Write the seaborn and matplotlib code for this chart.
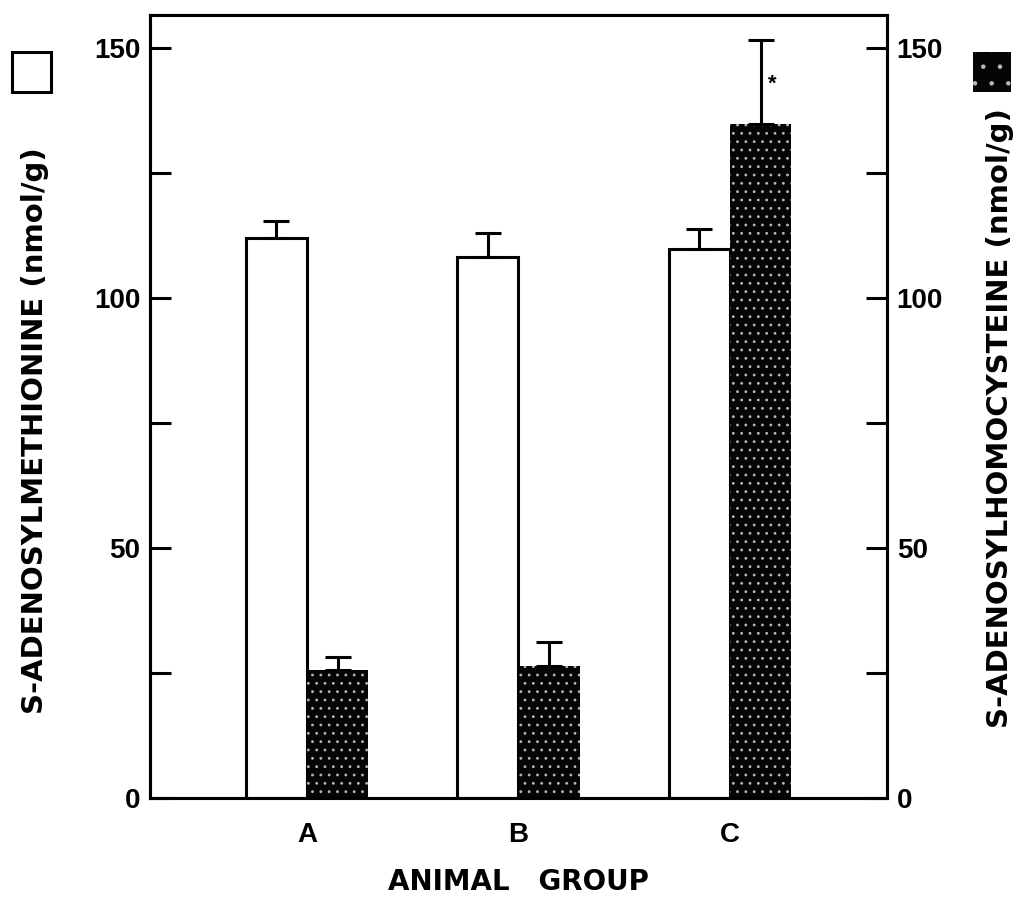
import numpy as np
import pandas as pd
import matplotlib
matplotlib.use("Agg")
import matplotlib.pyplot as plt
import seaborn as sns
from matplotlib.patches import Rectangle
from matplotlib.ticker import MultipleLocator

# ---- data ----
groups = ["A", "B", "C"]
sam_values = [112.0, 108.2, 109.8]      # S-adenosylmethionine (white bars)
sam_errors = [3.4, 4.8, 4.0]
sah_values = [25.6, 26.4, 134.8]        # S-adenosylhomocysteine (dark bars)
sah_errors = [2.6, 4.8, 16.8]
compounds = ["SAM", "SAH"]

df = pd.DataFrame({
    "group": groups * 2,
    "compound": [compounds[0]] * 3 + [compounds[1]] * 3,
    "value": sam_values + sah_values,
})

sns.set_theme(style="white")
plt.rcParams["font.family"] = ["Liberation Sans", "DejaVu Sans"]
plt.rcParams["font.weight"] = "bold"
plt.rcParams["hatch.linewidth"] = 0.8
for k in ["text.color", "axes.labelcolor", "xtick.color", "ytick.color", "axes.edgecolor"]:
    plt.rcParams[k] = "black"

LABEL_FONT = ["DejaVu Sans"]

fig = plt.figure(figsize=(10.2, 8.97), dpi=100)
ax = fig.add_axes([150 / 1020, 99 / 897, 737 / 1020, 783 / 897])

sns.barplot(data=df, x="group", y="value", hue="compound", order=groups,
            hue_order=compounds, palette=["white", "black"], width=0.58,
            errorbar=None, legend=False, ax=ax, saturation=1)

lw = 2.2
# style bars and add upward error bars
for cont, errs, dark in zip(ax.containers, [sam_errors, sah_errors], [False, True]):
    for p, e in zip(cont.patches, errs):
        if dark:
            p.set_facecolor("#050505")
            p.set_edgecolor("#b8b8b8")
            p.set_linewidth(0)
            p.set_hatch("..")
        else:
            p.set_facecolor("white")
            p.set_edgecolor("black")
            p.set_linewidth(lw)
        xc = p.get_x() + p.get_width() / 2
        h = p.get_height()
        ax.errorbar([xc], [h], yerr=[[0], [e]], fmt="none", ecolor="black",
                    elinewidth=lw, capsize=9.5, capthick=lw, zorder=1)

# significance marker
c_dark = ax.containers[1].patches[2]
ax.text(c_dark.get_x() + c_dark.get_width() / 2 + 0.055, sah_values[2] + 8.0, "*",
        ha="center", va="center", fontsize=16, fontweight="bold")

ax.set_xlim(-0.742, 2.742)
ax.set_ylim(0, 156.6)
ax.yaxis.set_major_locator(MultipleLocator(50))
ax.yaxis.set_minor_locator(MultipleLocator(25))
ax.tick_params(axis="y", which="both", direction="in", length=15, width=lw,
               labelsize=20, pad=7)
ax.tick_params(axis="y", which="minor", labelleft=False)
ax.tick_params(axis="x", length=0, labelsize=20, pad=17)
for lab in ax.get_xticklabels() + ax.get_yticklabels():
    lab.set_fontweight("bold")
for s in ax.spines.values():
    s.set_visible(True)
    s.set_linewidth(lw)
    s.set_color("black")

ax.set_xlabel("ANIMAL   GROUP", fontsize=20, fontweight="bold", family=LABEL_FONT)
ax.xaxis.set_label_coords(0.5, -0.107)
ax.xaxis.label.set_va("center")
ax.set_ylabel("S-ADENOSYLMETHIONINE (nmol/g)", fontsize=21, fontweight="bold",
              family=LABEL_FONT)
ax.yaxis.set_label_coords(-0.156, 0.469)
ax.yaxis.label.set_va("center")

ax2 = ax.twinx()
ax2.set_ylim(ax.get_ylim())
ax2.yaxis.set_major_locator(MultipleLocator(50))
ax2.yaxis.set_minor_locator(MultipleLocator(25))
ax2.tick_params(axis="y", which="both", direction="in", length=15, width=lw,
                labelsize=20, pad=7)
ax2.tick_params(axis="y", which="minor", labelright=False)
for lab in ax2.get_yticklabels():
    lab.set_fontweight("bold")
for s in ax2.spines.values():
    s.set_linewidth(lw)
    s.set_color("black")
ax2.set_ylabel("S-ADENOSYLHOMOCYSTEINE (nmol/g)", fontsize=21, fontweight="bold",
               rotation=90, family=LABEL_FONT)
ax2.yaxis.set_label_coords(1.153, 0.485)
ax2.yaxis.label.set_va("center")
ax2.grid(False)
ax.grid(False)

# legend keys outside the axes
fig.add_artist(Rectangle((12 / 1020, 1 - 92 / 897), 39 / 1020, 40 / 897,
                         transform=fig.transFigure, facecolor="white",
                         edgecolor="black", linewidth=2.2))
fig.add_artist(Rectangle((973 / 1020, 1 - 92 / 897), 38 / 1020, 40 / 897,
                         transform=fig.transFigure, facecolor="#050505",
                         edgecolor="#b8b8b8", linewidth=0, hatch="."))

fig.savefig("out.png", dpi=100, facecolor="white")
